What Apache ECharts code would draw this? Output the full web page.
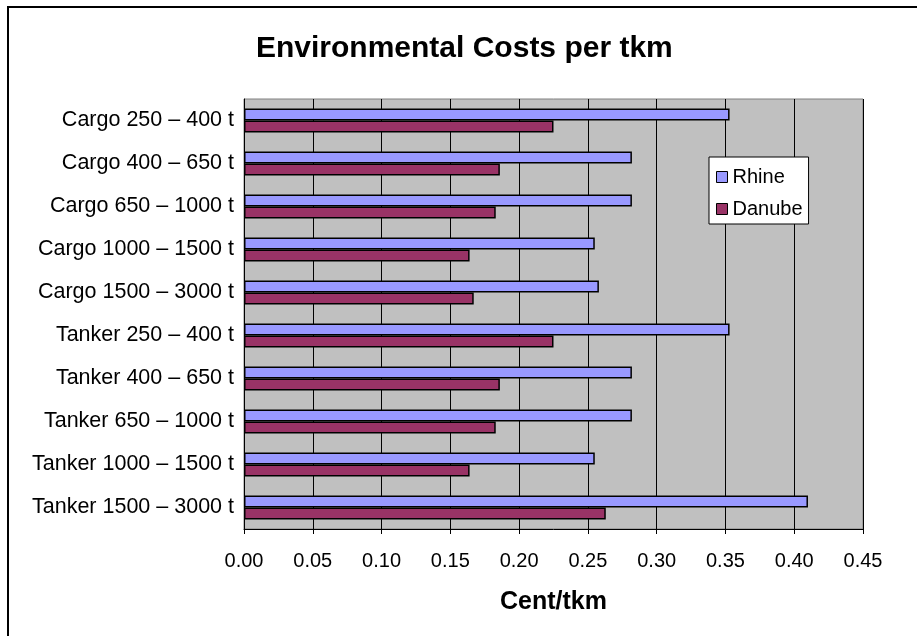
<!DOCTYPE html>
<html>
<head>
<meta charset="utf-8">
<script src="https://cdn.jsdelivr.net/npm/echarts@6/dist/echarts.min.js"></script>
<style>
  html, body { margin: 0; padding: 0; background: #ffffff; }
  #chart { width: 917px; height: 636px; }
</style>
</head>
<body>
<div id="chart"></div>
<script>
// Vessel classes, top to bottom
const categories = [
  'Cargo 250 – 400 t',
  'Cargo 400 – 650 t',
  'Cargo 650 – 1000 t',
  'Cargo 1000 – 1500 t',
  'Cargo 1500 – 3000 t',
  'Tanker 250 – 400 t',
  'Tanker 400 – 650 t',
  'Tanker 650 – 1000 t',
  'Tanker 1000 – 1500 t',
  'Tanker 1500 – 3000 t'
];

// Environmental costs, Cent per tonne-kilometre
const rhine  = [0.353, 0.282, 0.282, 0.255, 0.258, 0.353, 0.282, 0.282, 0.255, 0.410];
const danube = [0.225, 0.186, 0.183, 0.164, 0.167, 0.225, 0.186, 0.183, 0.164, 0.263];

const seriesNames = ['Rhine', 'Danube'];
const xTicks = { min: 0, max: 0.45, interval: 0.05 };

const FONT = '"Liberation Sans", Arial, sans-serif';

const chart = echarts.init(document.getElementById('chart'), null, { renderer: 'canvas' });

chart.setOption({
  backgroundColor: '#ffffff',
  animation: false,
  title: {
    text: 'Environmental Costs per tkm',
    left: 256,
    top: 34,
    padding: 0,
    textStyle: { fontFamily: FONT, fontSize: 30, fontWeight: 'bold', color: '#000' }
  },
  graphic: [
    {
      type: 'polyline',
      silent: true,
      shape: { points: [[8, 700], [8, 7], [1000, 7]] },
      style: { stroke: '#000', lineWidth: 2, fill: null }
    }
  ],
  legend: {
    orient: 'vertical',
    left: 709,
    top: 157,
    padding: [10, 6, 5, 7],
    itemGap: 12,
    itemWidth: 11,
    itemHeight: 11,
    icon: 'rect',
    backgroundColor: '#ffffff',
    borderColor: '#000',
    borderWidth: 1,
    borderRadius: 0,
    textStyle: { fontFamily: FONT, fontSize: 20, color: '#000' },
    data: seriesNames.map(n => ({ name: n, itemStyle: { borderColor: '#000', borderWidth: 1 } }))
  },
  grid: {
    left: 244,
    right: 54,
    top: 99,
    bottom: 107,
    show: true,
    backgroundColor: '#c0c0c0',
    borderColor: '#808080',
    borderWidth: 1,
    containLabel: false
  },
  xAxis: {
    type: 'value',
    min: xTicks.min,
    max: xTicks.max,
    interval: xTicks.interval,
    name: 'Cent/tkm',
    nameLocation: 'middle',
    nameGap: 61,
    nameTextStyle: { fontFamily: FONT, fontSize: 25, fontWeight: 'bold', color: '#000' },
    axisLine: { show: true, lineStyle: { color: '#000', width: 1 } },
    axisTick: { show: true, length: 5, lineStyle: { color: '#000' } },
    axisLabel: {
      fontFamily: FONT, fontSize: 20, color: '#000', margin: 22,
      formatter: v => v.toFixed(2)
    },
    splitLine: { show: true, lineStyle: { color: '#000', width: 1 } }
  },
  yAxis: {
    type: 'category',
    inverse: true,
    data: categories,
    axisLine: { show: true, lineStyle: { color: '#000', width: 1 } },
    axisTick: { show: false },
    axisLabel: { fontFamily: FONT, fontSize: 21.5, color: '#000', margin: 10 },
    splitLine: { show: false }
  },
  series: [
    {
      name: seriesNames[0],
      type: 'bar',
      data: rhine,
      barWidth: 12,
      barGap: '0%',
      itemStyle: { color: '#9999ff', borderColor: '#000', borderWidth: 1.5 }
    },
    {
      name: seriesNames[1],
      type: 'bar',
      data: danube,
      barWidth: 12,
      barGap: '0%',
      itemStyle: { color: '#993366', borderColor: '#000', borderWidth: 1.5 }
    }
  ]
});
</script>
</body>
</html>
